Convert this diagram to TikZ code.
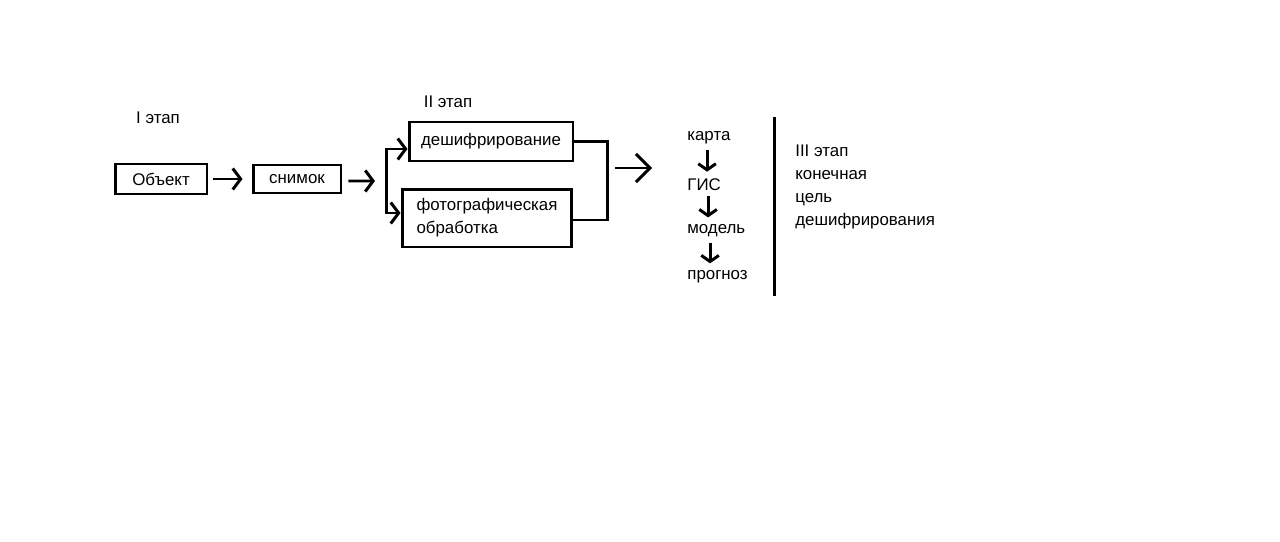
\documentclass[tikz,border=0pt]{standalone}
\usepackage{fontspec}
\setmainfont{Liberation Sans}
\usetikzlibrary{arrows.meta, positioning, calc}

\begin{document}
\begin{tikzpicture}[
    x=0.02cm, y=-0.02cm,
    every node/.style={font=\fontsize{9.6}{13}\selectfont},
    box/.style={draw, line width=1.7pt, inner sep=0pt},
    line/.style={line width=1.7pt},
    flow/.style={line, -{Straight Barb[length=4.5pt, width=12pt, line width=1.7pt]}},
    bigflow/.style={line, -{Straight Barb[length=8pt, width=16pt, line width=1.7pt]}},
    vflow/.style={line, -{Straight Barb[length=3.5pt, width=10pt, line width=1.7pt]}},
    word/.style={inner sep=0pt, anchor=west}
]
\useasboundingbox (0,0) rectangle (1280,541);

% Stage I
\node (stage1) at (158,118) {I этап};
\node[box, minimum width=1.84cm, minimum height=0.6cm] (obj) at (161,179) {Объект};
\node[box, minimum width=1.76cm, minimum height=0.56cm] (snap) at (297,179) {снимок};
\draw[flow] ([xshift=0.1cm]obj.east) -- ([xshift=-0.18cm]snap.west);

% Stage II
\node (stage2) at (448,102) {II этап};
\node[box, minimum width=3.28cm, minimum height=0.78cm] (decode) at (491,141.5) {дешифрирование};
\node[box, minimum width=3.4cm, minimum height=1.16cm, align=left] (photo) at (487,218)
    {фотографическая\\обработка};

\coordinate (split) at (386,181);
\coordinate (merge) at (607,220);
\coordinate (result) at (652,168);
\draw[flow] ([xshift=0.12cm,yshift=-0.04cm]snap.east) -- ([xshift=-0.22cm]split);
\draw[flow] (split) |- ([yshift=-0.15cm]decode.west);
\draw[flow] (split) |- ([yshift=0.1cm]photo.west);
\draw[line] (decode.east) -| (merge) -- (merge -| photo.east);
\draw[bigflow] ([xshift=0.16cm]merge |- result) -- (result);

% Stage III
\node[word] (map) at (687,138) {карта};
\node[word] (gis) at (687,185) {ГИС};
\node[word] (model) at (687,231) {модель};
\node[word] (forecast) at (687,277) {прогноз};
\draw[vflow] ([xshift=0.06cm,yshift=-0.1cm]gis.north |- map.south) -- ([xshift=0.06cm,yshift=0.14cm]gis.north);
\draw[vflow] ([xshift=0.08cm,yshift=-0.1cm]gis.south) -- ([xshift=0.08cm,yshift=0.14cm]gis.south |- model.north);
\draw[vflow] ([xshift=0.12cm,yshift=-0.1cm]gis.south |- model.south) -- ([xshift=0.12cm,yshift=0.14cm]gis.south |- forecast.north);

\coordinate (divtop) at (774,117);
\coordinate (divbot) at (774,296);
\draw[line] (divtop) -- (divbot);

\node[inner sep=0pt, anchor=north west, align=left] (goal) at (795,145)
    {III этап\\конечная\\цель\\дешифрирования};
\end{tikzpicture}
\end{document}
